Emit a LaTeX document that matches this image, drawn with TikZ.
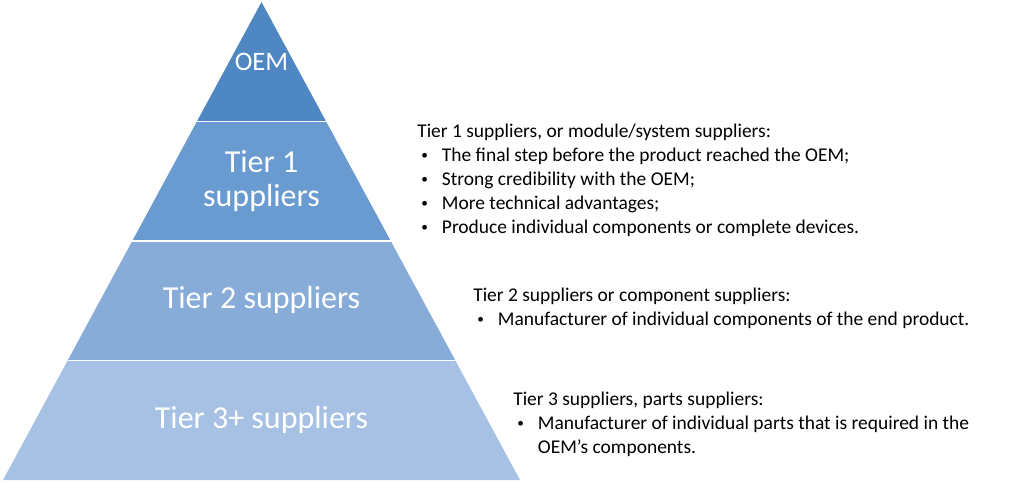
\documentclass[tikz,border=0pt]{standalone}
\usepackage{fontspec}
\setmainfont{Carlito}
\usetikzlibrary{calc}
\definecolor{OEMblue}{HTML}{4F87C2}
\definecolor{TierOne}{HTML}{6A9BD0}
\definecolor{TierTwo}{HTML}{88ACD8}
\definecolor{TierThree}{HTML}{A6C1E4}
\newcommand{\tierbullet}{\hspace*{3pt}\makebox[15.5pt][l]{\raisebox{1pt}{\fontsize{10}{10}\selectfont\textbullet}}}
\newcommand{\tierhang}{\hspace*{18.5pt}}
\tikzset{
  layerlabel/.style={white,inner sep=0pt,align=center,font=\fontsize{24}{26}\selectfont},
  infotext/.style={black,inner sep=0pt,align=left,font=\fontsize{14.6}{18}\selectfont},
  layerline/.style={white,line width=1.4pt}
}

\begin{document}
\begin{tikzpicture}[x=0.75pt,y=-0.75pt]
\useasboundingbox (0,0) rectangle (1024,482);
% pyramid corners
\coordinate (apex) at (261.5,2);
\coordinate (bl) at (3,480);
\coordinate (br) at (520,480);
\coordinate (l1) at ($(apex)!0.25!(bl)$);
\coordinate (r1) at ($(apex)!0.25!(br)$);
\coordinate (l2) at ($(apex)!0.5!(bl)$);
\coordinate (r2) at ($(apex)!0.5!(br)$);
\coordinate (l3) at ($(apex)!0.75!(bl)$);
\coordinate (r3) at ($(apex)!0.75!(br)$);
% layers
\fill[OEMblue] (apex) -- (l1) -- (r1) -- cycle;
\fill[TierOne] (l1) -- (l2) -- (r2) -- (r1) -- cycle;
\fill[TierTwo] (l2) -- (l3) -- (r3) -- (r2) -- cycle;
\fill[TierThree] (l3) -- (bl) -- (br) -- (r3) -- cycle;
\draw[layerline] (l1) -- (r1);
\draw[layerline] (l2) -- (r2);
\draw[layerline] (l3) -- (r3);
% labels
\node[layerlabel,font=\fontsize{20}{24}\selectfont] (oem) at (261.5,62) {OEM};
\node[layerlabel] (tier1) at (261.5,181) {Tier 1\\suppliers};
\node[layerlabel] (tier2) at (261.5,300) {Tier 2 suppliers};
\node[layerlabel] (tier3) at (261.5,420) {Tier 3+ suppliers};
% descriptions (base = last line)
\node[infotext,anchor=base west] (desc1) at (417,233) {Tier 1 suppliers, or module/system suppliers:\\
\tierbullet The final step before the product reached the OEM;\\
\tierbullet Strong credibility with the OEM;\\
\tierbullet More technical advantages;\\
\tierbullet Produce individual components or complete devices.};
\node[infotext,anchor=base west] (desc2) at (473,325) {Tier 2 suppliers or component suppliers:\\
\tierbullet Manufacturer of individual components of the end product.};
\node[infotext,anchor=base west] (desc3) at (513,453) {Tier 3 suppliers, parts suppliers:\\
\tierbullet Manufacturer of individual parts that is required in the\\
\tierhang OEM’s components.};
\end{tikzpicture}
\end{document}
